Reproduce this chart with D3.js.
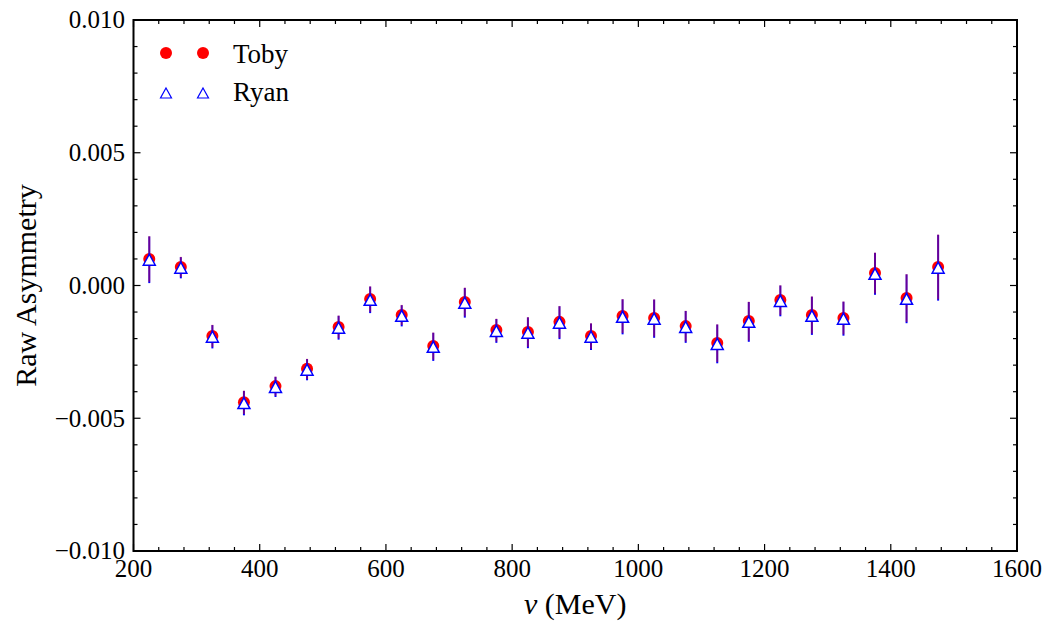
<!DOCTYPE html>
<html>
<head>
<meta charset="utf-8">
<script src="https://cdn.jsdelivr.net/npm/d3@7"></script>
<style>
  html, body { margin: 0; padding: 0; background: #fff; }
  text { font-family: "Liberation Serif", "Times New Roman", serif; fill: #000; }
</style>
</head>
<body>
<svg id="chart" width="1047" height="621"></svg>
<script>
// Photon energy bins (MeV)
const energies = [225, 275, 325, 375, 425, 475, 525, 575, 625, 675, 725, 775, 825,
                  875, 925, 975, 1025, 1075, 1125, 1175, 1225, 1275, 1325, 1375, 1425, 1475];

// Raw asymmetry, Toby's analysis
const tobyValues = [0.00100, 0.00070, -0.00190, -0.00440, -0.00379, -0.00314, -0.00156, -0.00051,
                    -0.00111, -0.00228, -0.00062, -0.00168, -0.00175, -0.00137, -0.00190, -0.00115,
                    -0.00122, -0.00153, -0.00217, -0.00134, -0.00055, -0.00111, -0.00122, 0.00047,
                    -0.00047, 0.00070];
const tobyErrors = [0.00086, 0.00038, 0.00042, 0.00044, 0.00036, 0.00038, 0.00043, 0.00048,
                    0.00038, 0.00051, 0.00054, 0.00043, 0.00056, 0.00060, 0.00048, 0.00064,
                    0.00070, 0.00058, 0.00071, 0.00073, 0.00056, 0.00070, 0.00062, 0.00077,
                    0.00090, 0.00122];

// Raw asymmetry, Ryan's analysis
const ryanValues = [0.00097, 0.00067, -0.00193, -0.00443, -0.00382, -0.00317, -0.00159, -0.00054,
                    -0.00114, -0.00231, -0.00065, -0.00171, -0.00178, -0.00140, -0.00193, -0.00118,
                    -0.00125, -0.00156, -0.00220, -0.00137, -0.00058, -0.00114, -0.00125, 0.00044,
                    -0.00050, 0.00067];
const ryanErrors = [0.00088, 0.00040, 0.00044, 0.00046, 0.00038, 0.00040, 0.00045, 0.00050,
                    0.00040, 0.00053, 0.00056, 0.00045, 0.00058, 0.00062, 0.00050, 0.00066,
                    0.00072, 0.00060, 0.00073, 0.00075, 0.00058, 0.00072, 0.00064, 0.00079,
                    0.00092, 0.00124];

const xMajorTicks = [200, 400, 600, 800, 1000, 1200, 1400, 1600];
const yMajorTicks = [-0.010, -0.005, 0.000, 0.005, 0.010];
const yTickLabels = ["\u22120.010", "\u22120.005", "0.000", "0.005", "0.010"];

const svg = d3.select("#chart");
const m = { left: 133.5, right: 1017, top: 20, bottom: 551 };

const x = d3.scaleLinear().domain([200, 1600]).range([m.left, m.right]);
const y = d3.scaleLinear().domain([-0.010, 0.010]).range([m.bottom, m.top]);

const xMinor = d3.range(200, 1600.1, 40).filter(v => v % 200 !== 0);
const yMinor = d3.range(-10, 10.1, 1).filter(v => v % 5 !== 0).map(v => v / 1000);

// Inward ticks on all four sides
const ticks = svg.append("g").attr("stroke", "#000").attr("stroke-width", 1.2);
function hTicks(vals, len) {
  vals.forEach(v => {
    ticks.append("line").attr("x1", x(v)).attr("x2", x(v)).attr("y1", m.bottom).attr("y2", m.bottom - len);
    ticks.append("line").attr("x1", x(v)).attr("x2", x(v)).attr("y1", m.top).attr("y2", m.top + len);
  });
}
function vTicks(vals, len) {
  vals.forEach(v => {
    ticks.append("line").attr("y1", y(v)).attr("y2", y(v)).attr("x1", m.left).attr("x2", m.left + len);
    ticks.append("line").attr("y1", y(v)).attr("y2", y(v)).attr("x1", m.right).attr("x2", m.right - len);
  });
}
hTicks(xMajorTicks, 7); hTicks(xMinor, 4);
vTicks(yMajorTicks, 7); vTicks(yMinor, 4);

// Frame
svg.append("rect")
  .attr("x", m.left).attr("y", m.top)
  .attr("width", m.right - m.left).attr("height", m.bottom - m.top)
  .attr("fill", "none").attr("stroke", "#000").attr("stroke-width", 2);

// Tick labels
svg.append("g").selectAll("text").data(xMajorTicks).join("text")
  .attr("x", d => x(d)).attr("y", 577)
  .attr("text-anchor", "middle").attr("font-size", 25)
  .text(d => d);

svg.append("g").selectAll("text").data(yMajorTicks).join("text")
  .attr("x", 125).attr("y", d => y(d)).attr("dy", "0.33em")
  .attr("text-anchor", "end").attr("font-size", 25)
  .text((d, i) => yTickLabels[i]);

// Axis titles
svg.append("text")
  .attr("transform", `translate(36,${(m.top + m.bottom) / 2}) rotate(-90)`)
  .attr("text-anchor", "middle").attr("font-size", 30)
  .text("Raw Asymmetry");

const xt = svg.append("text")
  .attr("x", (m.left + m.right) / 2).attr("y", 614)
  .attr("text-anchor", "middle").attr("font-size", 30);
xt.append("tspan").attr("font-style", "italic").text("\u03BD");
xt.append("tspan").text(" (MeV)");

// Data layers
const plot = svg.append("g");
const toby = energies.map((e, i) => ({ e, v: tobyValues[i], err: tobyErrors[i] }));
const ryan = energies.map((e, i) => ({ e, v: ryanValues[i], err: ryanErrors[i] }));

const triPath = (w, h) => `M0,${-h / 2}L${w / 2},${h / 2}L${-w / 2},${h / 2}Z`;

// Toby markers
plot.append("g").selectAll("circle").data(toby).join("circle")
  .attr("cx", d => x(d.e)).attr("cy", d => y(d.v)).attr("r", 6)
  .attr("fill", "#ff0000");

// Ryan error bars
plot.append("g").selectAll("line").data(ryan).join("line")
  .attr("x1", d => x(d.e)).attr("x2", d => x(d.e))
  .attr("y1", d => y(d.v + d.err)).attr("y2", d => y(d.v - d.err))
  .attr("stroke", "#0000ff").attr("stroke-width", 2);

// Toby error bars (translucent, overlapping Ryan's)
plot.append("g").selectAll("line").data(toby).join("line")
  .attr("x1", d => x(d.e)).attr("x2", d => x(d.e))
  .attr("y1", d => y(d.v + d.err)).attr("y2", d => y(d.v - d.err))
  .attr("stroke", "#ff0000").attr("stroke-opacity", 0.4).attr("stroke-width", 2);

// Ryan markers
plot.append("g").selectAll("path").data(ryan).join("path")
  .attr("transform", d => `translate(${x(d.e)},${y(d.v)})`)
  .attr("d", triPath(12, 11))
  .attr("fill", "#fff").attr("stroke", "#0000ff").attr("stroke-width", 1.5);

// Legend
const legend = svg.append("g");
[166, 203].forEach(cx => {
  legend.append("circle").attr("cx", cx).attr("cy", 53).attr("r", 6).attr("fill", "#ff0000");
  legend.append("path").attr("transform", `translate(${cx},93)`)
    .attr("d", triPath(11, 10)).attr("fill", "#fff")
    .attr("stroke", "#0000ff").attr("stroke-width", 1.2);
});
legend.append("text").attr("x", 233).attr("y", 63).attr("font-size", 27).text("Toby");
legend.append("text").attr("x", 233).attr("y", 101).attr("font-size", 27).text("Ryan");
</script>
</body>
</html>
